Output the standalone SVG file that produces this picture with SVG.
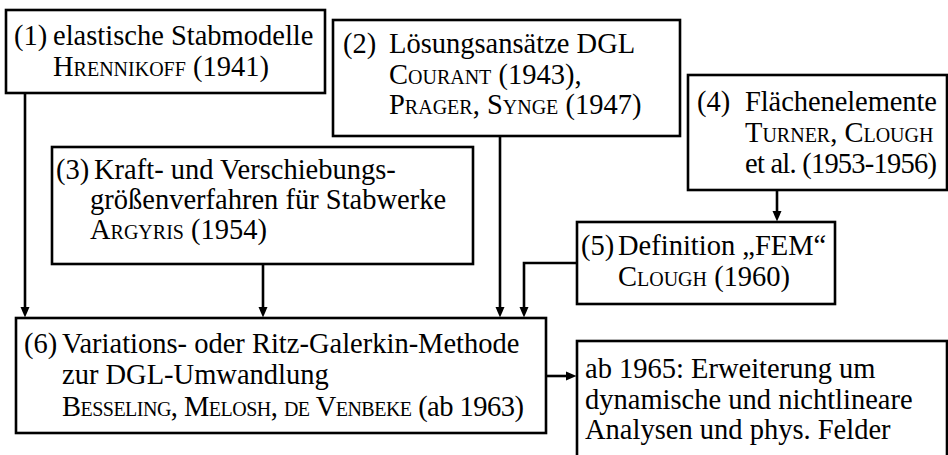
<svg xmlns="http://www.w3.org/2000/svg" width="948" height="455" viewBox="0 0 948 455">
<defs>
<style>
.box{fill:#fff;stroke:#000;stroke-width:2.6}
.t{font-family:"Liberation Serif","DejaVu Serif",serif;font-size:28.5px;fill:#000}
.sc{font-variant:small-caps}
.c{fill:none;stroke:#000;stroke-width:2.6}
</style>
<marker id="ah" markerUnits="userSpaceOnUse" markerWidth="11" markerHeight="10" refX="5" refY="5" orient="auto" viewBox="0 0 11 10">
<path d="M0,0.5 L10.5,5 L0,9.5 z" fill="#000"/>
</marker>
</defs>
<g id="connectors">
<line class="c" x1="25" y1="93" x2="25" y2="312" marker-end="url(#ah)"/>
<line class="c" x1="263" y1="264" x2="263" y2="312" marker-end="url(#ah)"/>
<line class="c" x1="500" y1="136" x2="500" y2="312" marker-end="url(#ah)"/>
<polyline class="c" points="577,263 524,263 524,312" marker-end="url(#ah)"/>
<line class="c" x1="777" y1="190" x2="777" y2="216" marker-end="url(#ah)"/>
<line class="c" x1="546" y1="376" x2="571" y2="376" marker-end="url(#ah)"/>
</g>
<g id="n1">
<rect class="box" x="6" y="10" width="319" height="83"/>
<text class="t" x="14" y="45">(1)</text>
<text class="t" x="53" y="45">elastische Stabmodelle</text>
<text class="t" x="53" y="76"><tspan class="sc">Hrennikoff</tspan> (1941)</text>
</g>
<g id="n2">
<rect class="box" x="333" y="20" width="347" height="116"/>
<text class="t" x="343" y="53">(2)</text>
<text class="t" x="389" y="53">Lösungsansätze DGL</text>
<text class="t" x="389" y="84"><tspan class="sc">Courant</tspan> (1943),</text>
<text class="t" x="389" y="114"><tspan class="sc">Prager</tspan>, <tspan class="sc">Synge</tspan> (1947)</text>
</g>
<g id="n3">
<rect class="box" x="52" y="147" width="421" height="117"/>
<text class="t" x="56" y="179">(3)</text>
<text class="t" x="94" y="179">Kraft- und Verschiebungs-</text>
<text class="t" x="90" y="209">größenverfahren für Stabwerke</text>
<text class="t" x="90" y="239"><tspan class="sc">Argyris</tspan> (1954)</text>
</g>
<g id="n4">
<rect class="box" x="688" y="75" width="259" height="115"/>
<text class="t" x="697" y="111">(4)</text>
<text class="t" x="745" y="111" textLength="192">Flächenelemente</text>
<text class="t" x="745" y="142"><tspan class="sc">Turner</tspan>, <tspan class="sc">Clough</tspan></text>
<text class="t" x="745" y="173" textLength="192">et al. (1953-1956)</text>
</g>
<g id="n5">
<rect class="box" x="577" y="222" width="258" height="82"/>
<text class="t" x="581" y="255">(5)</text>
<text class="t" x="618" y="255">Definition „FEM“</text>
<text class="t" x="618" y="286"><tspan class="sc">Clough</tspan> (1960)</text>
</g>
<g id="n6">
<rect class="box" x="16" y="318" width="530" height="115"/>
<text class="t" x="24" y="353">(6)</text>
<text class="t" x="62" y="353">Variations- oder Ritz-Galerkin-Methode</text>
<text class="t" x="62" y="384">zur DGL-Umwandlung</text>
<text class="t" x="62" y="416" textLength="462"><tspan class="sc">Besseling</tspan>, <tspan class="sc">Melosh</tspan>, <tspan class="sc">de Venbeke</tspan> (ab 1963)</text>
</g>
<g id="n7">
<rect class="box" x="577" y="341" width="370" height="130"/>
<text class="t" x="585" y="378">ab 1965: Erweiterung um</text>
<text class="t" x="585" y="409">dynamische und nichtlineare</text>
<text class="t" x="585" y="439">Analysen und phys. Felder</text>
</g>
</svg>
